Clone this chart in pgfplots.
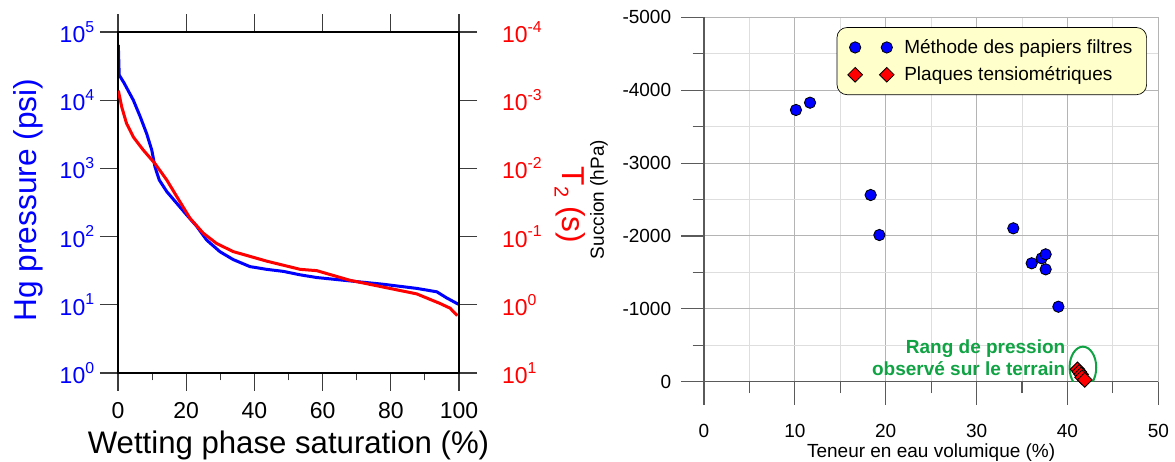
\documentclass[border=0pt]{standalone}
\usepackage{pgfplots}
\pgfplotsset{compat=1.18}
\usepackage{fontspec}
\setmainfont{Liberation Sans}
\definecolor{tickgray}{RGB}{60,60,60}
\definecolor{axisgray}{RGB}{90,90,90}
\definecolor{gridmaj}{RGB}{180,180,180}
\definecolor{gridmin}{RGB}{222,222,222}
\definecolor{legfill}{RGB}{255,255,204}
\definecolor{labgreen}{RGB}{16,163,68}
\newcommand\sps[1]{\raisebox{0.45em}{\fontsize{9.5}{10}\selectfont #1}}

\pgfplotstableread{
x p
0.1 64600
0.35 23400
1.8 17800
4.5 10000
6.5 5750
8.4 3240
9.9 1860
10.85 1050
12.1 676
14.3 457
17.2 309
20.1 209
23.1 141
26.0 89
29.9 60
33.8 46
38.7 36.3
43.6 33.1
48.5 30.9
53.4 27.5
58.3 25.1
68.0 22.4
77.8 20.0
87.6 17.4
93.5 15.5
96.4 12.6
99.8 10.2
}\hgdata

\pgfplotstableread{
x t
0.1 0.000724
1.1 0.00126
2.5 0.00219
4.5 0.00347
7.4 0.00537
10.85 0.00851
14.3 0.0148
17.2 0.0257
21.1 0.0537
25.0 0.0891
28.9 0.126
33.8 0.166
38.7 0.195
43.6 0.229
48.5 0.263
53.4 0.302
58.3 0.316
68.0 0.437
77.8 0.550
87.6 0.692
94.4 0.955
97.4 1.122
99.5 1.445
}\ttdata

\pgfplotstableread{
x s
10.12 -3729
11.67 -3829
18.34 -2562
19.30 -2013
34.04 -2105
36.06 -1625
37.16 -1693
37.60 -1748
37.60 -1542
39.00 -1029
}\filtre

\pgfplotstableread{
x s
41.1 -170
41.3 -135
41.5 -100
41.6 -60
41.9 -25
}\plaque

\begin{document}
\begin{tikzpicture}
\useasboundingbox (0,0) rectangle (705pt,277.2pt);
% ---------- left panel, Hg pressure ----------
\begin{axis}[
  at={(70.8pt,53.4pt)}, anchor=south west, scale only axis,
  width=204.6pt, height=204.6pt,
  xmin=0, xmax=100, ymode=log, ymin=1, ymax=1e5,
  xtick={0,20,40,60,80,100}, xticklabels={0,20,40,60,80,100},
  minor xtick={10,30,50,70,90},
  ytick={1,10,100,1000,10000,100000},
  yticklabels={10\sps{0},10\sps{1},10\sps{2},10\sps{3},10\sps{4},10\sps{5}},
  yminorticks=false,
  xtick pos=left, ytick pos=left,
  tick align=outside, major tick length=10.8pt, minor tick length=4.5pt,
  every tick/.style={draw=tickgray, line width=0.7pt},
  axis line style={line width=0.7pt},
  tick label style={font=\fontsize{13.8}{16}\selectfont},
  xticklabel style={yshift=-3.6pt},
  yticklabel style={text=blue},
  xlabel={Wetting phase saturation (\%)},
  xlabel style={font=\fontsize{18.7}{22}\selectfont, at={(axis description cs:0.5,-0.212)}, anchor=center},
  ylabel={Hg pressure (psi)},
  ylabel style={font=\fontsize{19}{22}\selectfont, text=blue, at={(axis description cs:-0.264,0.507)}, anchor=center},
]
\addplot[blue, line width=1.8pt] table[x=x,y=p] {\hgdata};
\end{axis}
% ---------- left panel, T2 ----------
\begin{axis}[
  at={(70.8pt,53.4pt)}, anchor=south west, scale only axis,
  width=204.6pt, height=204.6pt,
  xmin=0, xmax=100, ymode=log, ymin=1e-4, ymax=10, y dir=reverse,
  xtick={0,20,40,60,80,100}, xticklabels={},
  xtick pos=right,
  ytick={1e-4,1e-3,1e-2,1e-1,1,10},
  yticklabels={10\sps{-4},10\sps{-3},10\sps{-2},10\sps{-1},10\sps{0},10\sps{1}},
  yminorticks=false,
  ytick pos=right, yticklabel pos=right,
  tick align=outside, major tick length=10.8pt,
  every tick/.style={draw=tickgray, line width=0.7pt},
  axis line style={line width=0.7pt},
  tick label style={font=\fontsize{13.8}{16}\selectfont},
  yticklabel style={text=red, xshift=11.5pt},
  ylabel={T\raisebox{-0.25em}{\fontsize{12}{12}\selectfont 2} (s)},
  ylabel style={font=\fontsize{19}{22}\selectfont, text=red, at={(axis description cs:1.326,0.493)}, anchor=center, rotate=180},
]
\addplot[red, line width=1.8pt] table[x=x,y=t] {\ttdata};
\end{axis}
% ---------- right panel ----------
\begin{axis}[
  at={(422.4pt,48.18pt)}, anchor=south west, scale only axis,
  width=272.6pt, height=218.6pt,
  xmin=0, xmax=50, ymin=-5000, ymax=0, y dir=reverse,
  axis x line*=bottom, axis y line*=left,
  axis line style={-, draw=axisgray, line width=0.8pt},
  xtick={0,10,20,30,40,50}, xticklabels={0,10,20,30,40,50},
  minor xtick={5,15,25,35,45},
  ytick={-5000,-4000,-3000,-2000,-1000,0},
  yticklabels={-5000,-4000,-3000,-2000,-1000,0},
  minor ytick={-4500,-3500,-2500,-1500,-500},
  grid=both,
  major grid style={draw=gridmaj, line width=0.6pt},
  minor grid style={draw=gridmin, line width=0.6pt},
  tick align=outside, major tick length=13.8pt, minor tick length=6.9pt,
  every tick/.style={draw=axisgray, line width=0.7pt},
  tick label style={font=\fontsize{11.4}{13}\selectfont},
  xticklabel style={yshift=-8pt},
  yticklabel style={xshift=-2.4pt},
  xlabel={Teneur en eau volumique (\%)},
  ylabel={Succion (hPa)},
  label style={font=\fontsize{11.4}{13}\selectfont},
  xlabel style={yshift=3pt},
  ylabel style={yshift=2pt},
  legend style={at={(0.292,0.973)}, anchor=north west, fill=legfill, draw=black,
    rounded corners=6pt, font=\fontsize{11.4}{13}\selectfont, row sep=2.5pt,
    inner xsep=6.5pt, inner ysep=5pt},
  legend cell align=left,
  legend image code/.code={\path[draw=none, fill=none] (0pt,0pt) -- (27.5pt,0pt);\draw plot coordinates {(0pt,0pt) (19pt,0pt)};},
]
\addplot[only marks, mark=*, mark size=3.4pt, mark options={fill=blue, draw=black, line width=0.5pt}] table[x=x,y=s] {\filtre};
\addlegendentry{Méthode des papiers filtres}
\addplot[only marks, mark=square*, mark size=3.1pt, mark options={rotate=45, fill=red, draw=black, line width=0.5pt}] table[x=x,y=s] {\plaque};
\addlegendentry{Plaques tensiométriques}
\node[labgreen, font=\bfseries\fontsize{11.4}{13}\selectfont, align=right, anchor=east, inner xsep=0pt] at (axis cs:39.8,-332) {Rang de pression\\observé sur le terrain};
\draw[labgreen, line width=1.2pt] (axis cs:41.7,-195) ellipse [x radius=8pt, y radius=12.5pt];
\end{axis}
\end{tikzpicture}
\end{document}
